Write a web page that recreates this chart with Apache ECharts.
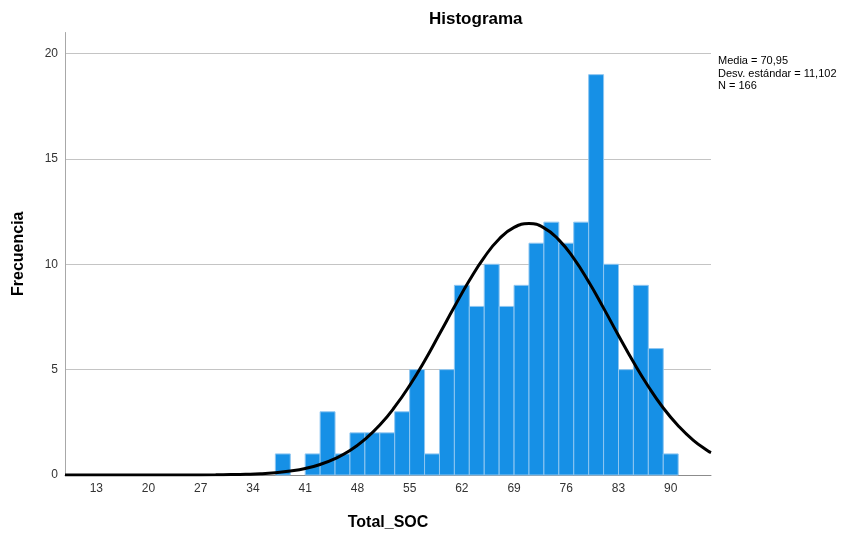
<!DOCTYPE html>
<html>
<head>
<meta charset="utf-8">
<script src="https://cdn.jsdelivr.net/npm/echarts@6/dist/echarts.min.js"></script>
<style>html,body{margin:0;padding:0;background:#fff}#c{width:857px;height:536px}</style>
</head>
<body>
<div id="c"></div>
<script>
// Histogram bins (width 2) – bin start values and counts
const binStarts = [37,39,41,43,45,47,49,51,53,55,57,59,61,63,65,67,69,71,73,75,77,79,81,83,85,87,89];
const counts    = [ 1, 0, 1, 3, 1, 2, 2, 2, 3, 5, 1, 5, 9, 8,10, 8, 9,11,12,11,12,19,10, 5, 9, 6, 1];
const binWidth = 2;
// Normal curve
const curveX = [8.8,13,17,21,25,29,31,33,35,37,39,41,43,45,47,49,51,53,55,57,59,61,63,65,67,69,71,73,75,77,79,81,83,85,87,89,91,93,95,95.4];
const curveY = [0,0,0,0,0.002,0.01,0.02,0.035,0.06,0.11,0.19,0.31,0.5,0.78,1.16,1.69,2.37,3.23,4.25,5.41,6.69,7.98,9.23,10.33,11.2,11.75,11.93,11.73,11.16,10.28,9.17,7.92,6.62,5.36,4.2,3.18,2.34,1.66,1.14,1.06];
const xTickLabels = [13,20,27,34,41,48,55,62,69,76,83,90];
const yTickLabels = [0,5,10,15,20];
const statsLines = ['Media = 70,95', 'Desv. estándar = 11,102', 'N = 166'];

const barData = binStarts.map((s, i) => [s, s + binWidth, counts[i]]).filter(d => d[2] > 0);
const FONT = '"Liberation Sans", Arial, sans-serif';

const chart = echarts.init(document.getElementById('c'), null, {renderer: 'canvas'});
chart.setOption({
  animation: false,
  backgroundColor: '#fff',
  title: {
    text: 'Histograma', left: 424, top: 6,
    textStyle: {fontFamily: FONT, fontSize: 17, fontWeight: 'bold', color: '#000'}
  },
  graphic: [{
    type: 'text', left: 718, top: 55,
    style: {text: statsLines.join('\n'), font: '11px ' + FONT, fill: '#000', lineHeight: 12.5}
  }],
  grid: {left: 65, right: 146, top: 32.5, bottom: 61, containLabel: false},
  xAxis: {
    type: 'value', min: 8.8, max: 95.4, interval: 0.2,
    name: 'Total_SOC', nameLocation: 'middle', nameGap: 40,
    nameTextStyle: {fontFamily: FONT, fontSize: 16, fontWeight: 'bold', color: '#000'},
    axisLine: {show: true, lineStyle: {color: '#8c8c8c', width: 1}},
    axisTick: {show: false},
    splitLine: {show: false},
    axisLabel: {
      margin: 8, fontFamily: FONT, fontSize: 12, color: '#333',
      formatter: function (v) {
        const r = Math.round(v);
        if (Math.abs(v - r) < 1e-6 && xTickLabels.indexOf(r) >= 0) return String(r);
        return '';
      }
    }
  },
  yAxis: {
    type: 'value', min: 0, max: 21, interval: 5,
    name: 'Frecuencia', nameLocation: 'middle', nameGap: 38,
    nameTextStyle: {fontFamily: FONT, fontSize: 16, fontWeight: 'bold', color: '#000'},
    axisLine: {show: true, lineStyle: {color: '#a8a8a8', width: 1}},
    axisTick: {show: false},
    splitLine: {show: true, lineStyle: {color: ['#c4c4c4','#c4c4c4','#c4c4c4','#c4c4c4','#c4c4c4','rgba(0,0,0,0)'], width: 1}},
    axisLabel: {
      margin: 7, fontFamily: FONT, fontSize: 12, color: '#333',
      formatter: function (v) { return yTickLabels.indexOf(v) >= 0 ? String(v) : ''; }
    }
  },
  series: [{
    type: 'custom',
    data: barData,
    encode: {x: [0, 1], y: 2},
    z: 2,
    renderItem: function (params, api) {
      const p0 = api.coord([api.value(0), api.value(2)]);
      const p1 = api.coord([api.value(1), 0]);
      return {
        type: 'rect',
        shape: {x: p0[0], y: p0[1], width: p1[0] - p0[0], height: p1[1] - p0[1]},
        style: {fill: '#1690e6', stroke: '#8ec6f1', lineWidth: 1}
      };
    }
  }, {
    type: 'line',
    data: curveX.map((x, i) => [x, curveY[i]]),
    smooth: true, symbol: 'none', z: 5,
    lineStyle: {color: '#000', width: 3}
  }]
});
</script>
</body>
</html>
